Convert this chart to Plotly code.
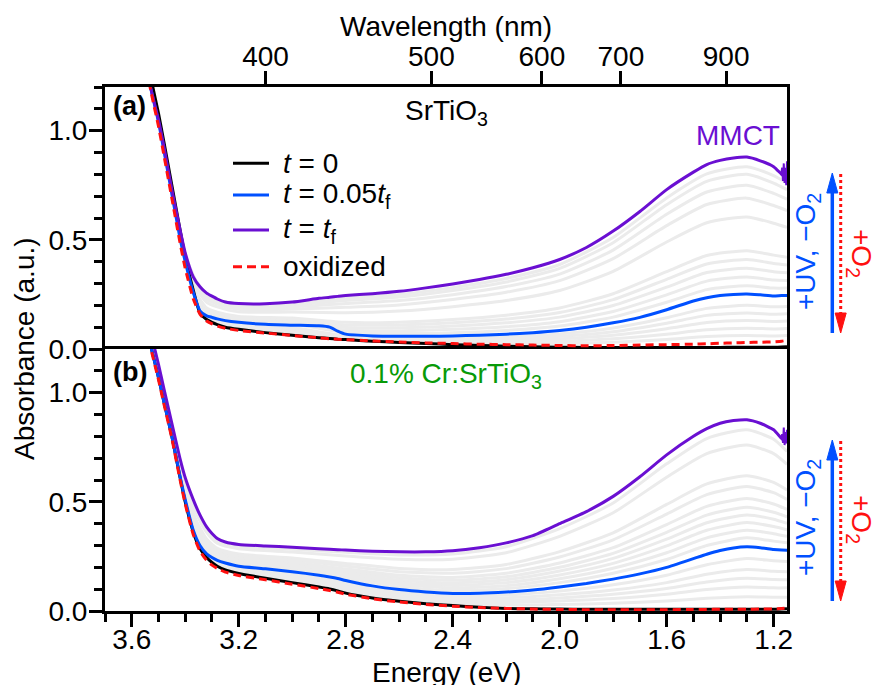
import plotly.graph_objects as go

FONT = "Liberation Sans, Arial, sans-serif"

# ---------------- data ----------------
energy = [3.56, 3.53, 3.50, 3.48, 3.45, 3.42, 3.40, 3.37, 3.345, 3.32, 3.30, 3.28, 3.25, 3.20,
          3.10, 3.00, 2.90, 2.86, 2.83, 2.80, 2.70, 2.60, 2.50, 2.40, 2.30, 2.20, 2.10, 2.00,
          1.90, 1.80, 1.70, 1.60, 1.50, 1.45, 1.40, 1.35, 1.30, 1.25, 1.20, 1.17, 1.15]

# panel (a) SrTiO3
a_t0 = [1.45, 1.25, 1.08, 0.95, 0.75, 0.55, 0.42, 0.27, 0.165, 0.135, 0.122, 0.112, 0.100, 0.090,
        0.075, 0.063, 0.052, 0.048, 0.045, 0.043, 0.036, 0.030, 0.025, 0.020, 0.016, 0.013, 0.010, 0.008,
        0.007, 0.006, 0.006, 0.006, 0.006, 0.007, 0.007, 0.008, 0.008, 0.008, 0.008, 0.009, 0.010]
a_t005 = [1.40, 1.20, 1.04, 0.91, 0.71, 0.51, 0.40, 0.26, 0.175, 0.152, 0.145, 0.138, 0.130, 0.122,
          0.113, 0.109, 0.106, 0.100, 0.082, 0.068, 0.060, 0.058, 0.058, 0.060, 0.063, 0.068, 0.075, 0.085,
          0.100, 0.120, 0.145, 0.180, 0.220, 0.235, 0.245, 0.250, 0.252, 0.248, 0.243, 0.245, 0.245]
a_tf = [1.40, 1.20, 1.05, 0.93, 0.73, 0.55, 0.44, 0.33, 0.285, 0.256, 0.242, 0.229, 0.215, 0.208,
        0.207, 0.215, 0.232, 0.237, 0.241, 0.245, 0.253, 0.264, 0.280, 0.298, 0.318, 0.342, 0.372, 0.410,
        0.465, 0.540, 0.630, 0.730, 0.810, 0.845, 0.864, 0.875, 0.879, 0.862, 0.835, 0.800, 0.780]
a_ox = [1.40, 1.19, 1.02, 0.89, 0.69, 0.49, 0.37, 0.23, 0.160, 0.128, 0.115, 0.105, 0.095, 0.085,
        0.073, 0.062, 0.051, 0.047, 0.045, 0.043, 0.037, 0.032, 0.028, 0.025, 0.022, 0.020, 0.018, 0.016,
        0.015, 0.016, 0.018, 0.020, 0.022, 0.024, 0.026, 0.028, 0.030, 0.031, 0.033, 0.036, 0.040]

# panel (b) 0.1% Cr:SrTiO3
b_t0 = [1.42, 1.22, 1.07, 0.96, 0.80, 0.615, 0.50, 0.362, 0.286, 0.245, 0.222, 0.205, 0.188, 0.172,
        0.150, 0.130, 0.110, 0.101, 0.092, 0.082, 0.060, 0.045, 0.033, 0.025, 0.017, 0.012, 0.010, 0.009,
        0.008, 0.008, 0.008, 0.008, 0.008, 0.008, 0.008, 0.008, 0.008, 0.008, 0.008, 0.009, 0.010]
b_t005 = [1.42, 1.22, 1.07, 0.96, 0.80, 0.62, 0.51, 0.37, 0.30, 0.262, 0.245, 0.232, 0.220, 0.205,
          0.193, 0.180, 0.164, 0.156, 0.149, 0.140, 0.115, 0.098, 0.087, 0.080, 0.081, 0.087, 0.096, 0.110,
          0.126, 0.146, 0.170, 0.200, 0.240, 0.260, 0.277, 0.289, 0.294, 0.290, 0.282, 0.279, 0.278]
b_tf = [1.44, 1.28, 1.13, 1.02, 0.86, 0.700, 0.610, 0.51, 0.44, 0.385, 0.355, 0.332, 0.316, 0.305,
        0.298, 0.292, 0.285, 0.283, 0.281, 0.279, 0.274, 0.271, 0.271, 0.276, 0.290, 0.312, 0.345, 0.400,
        0.455, 0.525, 0.615, 0.715, 0.800, 0.835, 0.860, 0.872, 0.876, 0.860, 0.830, 0.790, 0.770]
b_ox = [1.42, 1.21, 1.06, 0.95, 0.79, 0.605, 0.49, 0.35, 0.275, 0.232, 0.210, 0.195, 0.178, 0.163,
        0.143, 0.123, 0.103, 0.094, 0.086, 0.077, 0.056, 0.041, 0.030, 0.022, 0.016, 0.012, 0.009, 0.007,
        0.006, 0.006, 0.006, 0.006, 0.007, 0.007, 0.008, 0.008, 0.008, 0.009, 0.009, 0.011, 0.013]

# noisy detector-edge tail of the t = tf curves
energy_tail = [1.172, 1.168, 1.165, 1.162, 1.159, 1.156, 1.153, 1.150]
a_tf_tail = [0.80, 0.83, 0.77, 0.85, 0.76, 0.83, 0.75, 0.86]
b_tf_tail = [0.79, 0.81, 0.77, 0.84, 0.76, 0.82, 0.77, 0.83]

# intermediate spectra (grey)
energy_gray = [3.56, 3.50, 3.45, 3.40, 3.36, 3.32, 3.28, 3.20, 3.00, 2.80, 2.60, 2.40, 2.20, 2.00,
               1.80, 1.60, 1.45, 1.30, 1.20, 1.15]
a_gray = [
    [1.40, 1.05, 0.72, 0.43, 0.314, 0.253, 0.228, 0.201, 0.208, 0.232, 0.250, 0.281, 0.323, 0.387, 0.511, 0.692, 0.802, 0.835, 0.794, 0.761],
    [1.40, 1.05, 0.72, 0.43, 0.309, 0.247, 0.223, 0.196, 0.202, 0.222, 0.238, 0.268, 0.307, 0.369, 0.487, 0.661, 0.768, 0.800, 0.760, 0.730],
    [1.40, 1.05, 0.72, 0.43, 0.301, 0.238, 0.215, 0.189, 0.193, 0.208, 0.222, 0.249, 0.286, 0.343, 0.453, 0.617, 0.719, 0.750, 0.713, 0.686],
    [1.40, 1.05, 0.72, 0.43, 0.293, 0.229, 0.206, 0.182, 0.183, 0.191, 0.202, 0.227, 0.260, 0.313, 0.414, 0.565, 0.662, 0.691, 0.657, 0.634],
    [1.40, 1.05, 0.72, 0.43, 0.281, 0.214, 0.193, 0.170, 0.169, 0.166, 0.174, 0.194, 0.222, 0.268, 0.356, 0.490, 0.578, 0.605, 0.576, 0.557],
    [1.40, 1.05, 0.72, 0.43, 0.258, 0.188, 0.169, 0.149, 0.142, 0.122, 0.123, 0.135, 0.155, 0.188, 0.253, 0.354, 0.428, 0.450, 0.430, 0.420],
    [1.40, 1.05, 0.72, 0.43, 0.253, 0.181, 0.162, 0.143, 0.136, 0.110, 0.110, 0.120, 0.137, 0.167, 0.226, 0.319, 0.389, 0.410, 0.392, 0.385],
    [1.40, 1.05, 0.72, 0.43, 0.247, 0.175, 0.156, 0.138, 0.129, 0.099, 0.097, 0.105, 0.120, 0.146, 0.199, 0.283, 0.350, 0.370, 0.354, 0.349],
    [1.40, 1.05, 0.72, 0.43, 0.241, 0.168, 0.150, 0.133, 0.122, 0.087, 0.084, 0.090, 0.102, 0.125, 0.172, 0.248, 0.311, 0.330, 0.316, 0.314],
    [1.40, 1.05, 0.72, 0.43, 0.235, 0.161, 0.144, 0.127, 0.115, 0.076, 0.071, 0.075, 0.085, 0.105, 0.146, 0.214, 0.272, 0.290, 0.279, 0.279],
    [1.40, 1.05, 0.72, 0.41, 0.235, 0.152, 0.133, 0.115, 0.099, 0.060, 0.052, 0.051, 0.056, 0.069, 0.096, 0.143, 0.186, 0.200, 0.193, 0.195],
    [1.40, 1.05, 0.72, 0.41, 0.235, 0.150, 0.130, 0.111, 0.093, 0.057, 0.048, 0.046, 0.048, 0.058, 0.079, 0.118, 0.154, 0.165, 0.159, 0.161],
    [1.40, 1.05, 0.72, 0.41, 0.235, 0.148, 0.127, 0.106, 0.086, 0.054, 0.044, 0.040, 0.040, 0.047, 0.063, 0.093, 0.121, 0.130, 0.126, 0.128],
    [1.40, 1.05, 0.72, 0.41, 0.235, 0.145, 0.123, 0.101, 0.079, 0.051, 0.040, 0.034, 0.033, 0.035, 0.047, 0.068, 0.088, 0.095, 0.092, 0.094],
    [1.40, 1.05, 0.72, 0.41, 0.235, 0.143, 0.120, 0.097, 0.073, 0.048, 0.036, 0.029, 0.025, 0.025, 0.031, 0.044, 0.057, 0.062, 0.060, 0.062],
]
b_gray = [
    [1.42, 1.08, 0.82, 0.602, 0.469, 0.375, 0.322, 0.297, 0.283, 0.269, 0.257, 0.261, 0.294, 0.377, 0.495, 0.674, 0.790, 0.830, 0.787, 0.731],
    [1.42, 1.08, 0.82, 0.590, 0.452, 0.360, 0.310, 0.285, 0.270, 0.252, 0.237, 0.237, 0.267, 0.342, 0.450, 0.613, 0.721, 0.760, 0.721, 0.672],
    [1.42, 1.08, 0.81, 0.566, 0.418, 0.330, 0.287, 0.261, 0.243, 0.218, 0.195, 0.190, 0.213, 0.272, 0.358, 0.488, 0.582, 0.620, 0.589, 0.554],
    [1.42, 1.08, 0.81, 0.557, 0.406, 0.319, 0.278, 0.252, 0.233, 0.206, 0.180, 0.173, 0.194, 0.247, 0.326, 0.444, 0.533, 0.570, 0.542, 0.511],
    [1.42, 1.08, 0.81, 0.548, 0.393, 0.308, 0.269, 0.243, 0.223, 0.193, 0.164, 0.154, 0.173, 0.220, 0.290, 0.396, 0.479, 0.515, 0.490, 0.465],
    [1.42, 1.08, 0.81, 0.541, 0.384, 0.299, 0.262, 0.236, 0.215, 0.184, 0.152, 0.141, 0.157, 0.200, 0.264, 0.360, 0.439, 0.475, 0.452, 0.431],
    [1.42, 1.08, 0.81, 0.535, 0.375, 0.291, 0.257, 0.230, 0.208, 0.175, 0.141, 0.129, 0.143, 0.183, 0.241, 0.329, 0.404, 0.440, 0.420, 0.401],
    [1.42, 1.08, 0.81, 0.529, 0.367, 0.284, 0.251, 0.224, 0.201, 0.167, 0.131, 0.117, 0.130, 0.165, 0.218, 0.298, 0.370, 0.405, 0.387, 0.372],
    [1.42, 1.08, 0.81, 0.523, 0.358, 0.276, 0.245, 0.218, 0.195, 0.158, 0.121, 0.106, 0.116, 0.148, 0.196, 0.267, 0.335, 0.370, 0.354, 0.342],
    [1.42, 1.08, 0.81, 0.517, 0.350, 0.269, 0.239, 0.212, 0.188, 0.150, 0.110, 0.094, 0.103, 0.130, 0.173, 0.236, 0.300, 0.335, 0.320, 0.312],
    [1.42, 1.07, 0.80, 0.508, 0.336, 0.257, 0.227, 0.198, 0.171, 0.129, 0.088, 0.069, 0.073, 0.091, 0.120, 0.164, 0.212, 0.240, 0.230, 0.227],
    [1.42, 1.07, 0.80, 0.506, 0.333, 0.255, 0.222, 0.192, 0.162, 0.118, 0.079, 0.060, 0.060, 0.074, 0.096, 0.130, 0.168, 0.190, 0.182, 0.180],
    [1.42, 1.07, 0.80, 0.505, 0.330, 0.252, 0.218, 0.187, 0.155, 0.110, 0.071, 0.052, 0.049, 0.060, 0.077, 0.103, 0.133, 0.150, 0.144, 0.143],
    [1.42, 1.07, 0.80, 0.504, 0.327, 0.250, 0.215, 0.182, 0.148, 0.101, 0.064, 0.044, 0.039, 0.046, 0.057, 0.077, 0.098, 0.110, 0.106, 0.106],
    [1.42, 1.07, 0.80, 0.502, 0.324, 0.248, 0.210, 0.177, 0.140, 0.092, 0.056, 0.035, 0.027, 0.030, 0.035, 0.046, 0.058, 0.065, 0.063, 0.063],
]

wavelength_ticks = [400, 500, 600, 700, 900]
legend_labels = ["<i>t</i> = 0", "<i>t</i> = 0.05<i>t</i><sub>f</sub>", "<i>t</i> = <i>t</i><sub>f</sub>", "oxidized"]

# ---------------- style ----------------
C_BLACK = "#000000"
C_BLUE = "#0050ff"
C_PURPLE = "#6a0fd2"
C_RED = "#ff1010"
C_GRAY = "#ebebeb"
C_GREEN = "#089a08"

W, H = 875, 685
ML, MR, MT, MB = 105, 88, 87, 74
PW, PH = W - ML - MR, H - MT - MB


def px(xpix):
    return (xpix - ML) / PW


def py(ypix):
    return (H - MB - ypix) / PH


fig = go.Figure()


def add_panel(xa, ya, gray, t0, t005, tf, ox, tail):
    for g in gray:
        fig.add_trace(go.Scatter(x=energy_gray, y=g, xaxis=xa, yaxis=ya, mode="lines",
                                 line=dict(color=C_GRAY, width=3, shape="spline", smoothing=0.6),
                                 showlegend=False, hoverinfo="skip"))
    fig.add_trace(go.Scatter(x=energy, y=t0, xaxis=xa, yaxis=ya, mode="lines",
                             line=dict(color=C_BLACK, width=3, shape="spline", smoothing=0.5),
                             showlegend=False))
    fig.add_trace(go.Scatter(x=energy, y=t005, xaxis=xa, yaxis=ya, mode="lines",
                             line=dict(color=C_BLUE, width=3, shape="spline", smoothing=0.5),
                             showlegend=False))
    fig.add_trace(go.Scatter(x=energy, y=tf, xaxis=xa, yaxis=ya, mode="lines",
                             line=dict(color=C_PURPLE, width=3, shape="spline", smoothing=0.5),
                             showlegend=False))
    fig.add_trace(go.Scatter(x=energy_tail, y=tail, xaxis=xa, yaxis=ya, mode="lines",
                             line=dict(color=C_PURPLE, width=2),
                             showlegend=False))
    fig.add_trace(go.Scatter(x=energy, y=ox, xaxis=xa, yaxis=ya, mode="lines",
                             line=dict(color=C_RED, width=3, dash="8px,5px", shape="spline", smoothing=0.5),
                             showlegend=False))


add_panel("x2", "y2", a_gray, a_t0, a_t005, a_tf, a_ox, a_tf_tail)
add_panel("x", "y", b_gray, b_t0, b_t005, b_tf, b_ox, b_tf_tail)

tick_font = dict(family=FONT, size=28, color="black")
common = dict(showline=True, linewidth=3, linecolor="black", mirror=True, ticks="outside",
              tickwidth=3, tickcolor="black", ticklen=13, showgrid=False, zeroline=False,
              tickfont=tick_font)

fig.update_layout(
    width=W, height=H,
    margin=dict(l=ML, r=MR, t=MT, b=MB, pad=0),
    paper_bgcolor="white", plot_bgcolor="white",
    font=dict(family=FONT, size=28, color="black"),
    showlegend=False,
    xaxis=dict(common, domain=[0, 1], anchor="y", range=[3.7, 1.15], tick0=1.2, dtick=0.4,
               tickformat=".1f", ticklabelstandoff=-12,
               minor=dict(dtick=0.1, tick0=1.2, ticks="outside", ticklen=8, tickwidth=3,
                          tickcolor="black")),
    xaxis2=dict(common, domain=[0, 1], anchor="y2", range=[3.7, 1.15], matches="x", side="top",
                mirror=False, ticklabelstandoff=-6,
                tickmode="array", tickvals=[1239.84 / w for w in wavelength_ticks],
                ticktext=[str(w) for w in wavelength_ticks]),
    yaxis=dict(common, domain=[0, 0.5], anchor="x", range=[0, 1.2], tick0=0, dtick=0.5,
               tickformat=".1f", ticklabelstandoff=-4,
               minor=dict(dtick=0.1, tick0=0, ticks="outside", ticklen=8, tickwidth=3,
                          tickcolor="black")),
    yaxis2=dict(common, domain=[0.5, 1], anchor="x2", range=[0, 1.2], tick0=0, dtick=0.5,
                tickformat=".1f", ticklabelstandoff=-4,
                minor=dict(dtick=0.1, tick0=0, ticks="outside", ticklen=8, tickwidth=3,
                           tickcolor="black")),
)

ann = []


def text(x, y, s, size=28, color="black", xanchor="center", yanchor="middle", angle=0):
    ann.append(dict(x=x, y=y, xref="paper", yref="paper", text=s, showarrow=False,
                    font=dict(family=FONT, size=size, color=color), xanchor=xanchor,
                    yanchor=yanchor, textangle=angle))


# axis titles
text(0.5, py(26), "Wavelength (nm)")
text(0.5, py(672), "Energy (eV)")
text(px(24), 0.5, "Absorbance (a.u.)", angle=-90)
# panel labels
text(px(111), py(105.5), "<b>(a)</b>", size=27, xanchor="left")
text(px(111), py(372), "<b>(b)</b>", size=27, xanchor="left")
text(0.5, py(112), "SrTiO<sub>3</sub>")
text(px(737.5), py(135.3), "MMCT", color=C_PURPLE)
text(0.5, py(375), "0.1% Cr:SrTiO<sub>3</sub>", color=C_GREEN)

# legend
shapes = []
leg_y = [163.3, 195, 230, 266.7]
leg_col = [C_BLACK, C_BLUE, C_PURPLE, C_RED]
leg_dash = ["solid", "solid", "solid", "9px,5px"]
for yy, col, d, lab in zip(leg_y, leg_col, leg_dash, legend_labels):
    shapes.append(dict(type="line", xref="paper", yref="paper", x0=px(233), x1=px(269),
                       y0=py(yy), y1=py(yy), line=dict(color=col, width=3, dash=d)))
    text(px(281), py(yy), lab, xanchor="left")


# process arrows
def arrows(y_top, y_bot, text_cy):
    bx, rx = 832.3, 840.7
    hw, hh = 5.5, 20
    shapes.append(dict(type="line", xref="paper", yref="paper", x0=px(bx), x1=px(bx),
                       y0=py(y_bot), y1=py(y_top + hh - 2), line=dict(color=C_BLUE, width=3.5)))
    shapes.append(dict(type="path", xref="paper", yref="paper",
                       path=f"M {px(bx - hw)},{py(y_top + hh)} L {px(bx + hw)},{py(y_top + hh)} L {px(bx)},{py(y_top)} Z",
                       fillcolor=C_BLUE, line=dict(color=C_BLUE, width=1)))
    shapes.append(dict(type="line", xref="paper", yref="paper", x0=px(rx), x1=px(rx),
                       y0=py(y_top + 1), y1=py(y_bot - hh + 2), line=dict(color=C_RED, width=3, dash="dot")))
    shapes.append(dict(type="path", xref="paper", yref="paper",
                       path=f"M {px(rx - hw)},{py(y_bot - hh)} L {px(rx + hw)},{py(y_bot - hh)} L {px(rx)},{py(y_bot)} Z",
                       fillcolor=C_RED, line=dict(color=C_RED, width=1)))
    text(px(807), py(text_cy), "+UV, \u2212O<sub>2</sub>", color=C_BLUE, angle=-90)
    text(px(860), py(text_cy + 2), "+O<sub>2</sub>", color=C_RED, angle=90)


arrows(173, 333, 252)
arrows(440, 601, 518)

fig.update_layout(annotations=ann, shapes=shapes)
fig.write_html("out.html")
